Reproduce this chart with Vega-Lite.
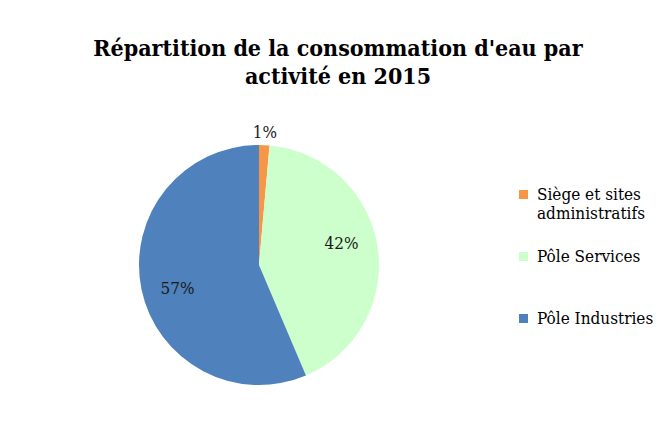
{
  "$schema": "https://vega.github.io/schema/vega-lite/v6.json",
  "autosize": {"type": "none"},
  "width": 240,
  "height": 240,
  "padding": {"left": 139, "top": 145, "right": 285, "bottom": 40},
  "background": "white",
  "config": {
    "view": {"stroke": null},
    "legend": {"labelFont": "DejaVu Serif Condensed"},
    "text": {"font": "DejaVu Serif Condensed"}
  },
  "title": {
    "text": ["Répartition de la consommation d'eau par", "activité en 2015"],
    "font": "DejaVu Serif Condensed",
    "fontWeight": "bold",
    "fontSize": 23,
    "lineHeight": 28,
    "color": "#000000",
    "anchor": "middle",
    "dx": 79,
    "offset": 35
  },
  "data": {
    "values": [
      {"categorie": "Siège et sites administratifs", "part": 1.4, "etiquette": "1%", "ordre": 1},
      {"categorie": "Pôle Services", "part": 42.2, "etiquette": "42%", "ordre": 2},
      {"categorie": "Pôle Industries", "part": 56.4, "etiquette": "57%", "ordre": 3}
    ]
  },
  "encoding": {
    "theta": {"field": "part", "type": "quantitative", "stack": true},
    "order": {"field": "ordre", "type": "quantitative"},
    "color": {
      "field": "categorie",
      "type": "nominal",
      "scale": {
        "domain": ["Siège et sites administratifs", "Pôle Services", "Pôle Industries"],
        "range": ["#F79646", "#CCFFCC", "#4F81BD"]
      },
      "legend": {
        "title": null,
        "orient": "none",
        "legendX": 376,
        "legendY": 41,
        "padding": 0,
        "symbolType": "square",
        "symbolSize": 81,
        "symbolStrokeWidth": 0,
        "symbolOpacity": 1,
        "labelFont": "DejaVu Serif Condensed",
        "labelFontSize": 17,
        "labelColor": "#000000",
        "labelLineHeight": 21,
        "labelLimit": 0,
        "labelOffset": 5,
        "gridAlign": "all",
        "rowPadding": 25,
        "labelExpr": "datum.label == 'Siège et sites administratifs' ? ['Siège et sites', 'administratifs'] : datum.label",
        "encode": {
          "labels": {
            "update": {
              "dy": {"signal": "datum.value == 'Siège et sites administratifs' ? 10 : 0"}
            }
          }
        }
      }
    }
  },
  "layer": [
    {"mark": {"type": "arc", "outerRadius": 120, "stroke": null}},
    {
      "transform": [{"filter": "datum.part >= 5"}],
      "mark": {"type": "text", "font": "DejaVu Serif Condensed", "fontSize": 17, "radius": 85},
      "encoding": {
        "text": {"field": "etiquette"},
        "color": {"value": "#1a1a1a"}
      }
    },
    {
      "transform": [{"filter": "datum.part < 5"}],
      "mark": {"type": "text", "font": "DejaVu Serif Condensed", "fontSize": 17, "radius": 132},
      "encoding": {
        "text": {"field": "etiquette"},
        "color": {"value": "#1a1a1a"}
      }
    }
  ]
}
